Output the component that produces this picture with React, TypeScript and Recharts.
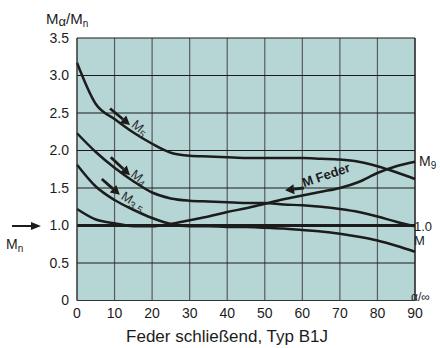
import {
  LineChart,
  Line,
  XAxis,
  YAxis,
  CartesianGrid,
  ReferenceLine,
  ReferenceDot,
  Customized,
} from "recharts";

const angles = [0, 5, 10, 15, 20, 25, 30, 35, 40, 45, 50, 55, 60, 65, 70, 75, 80, 85, 90];
const m5 = [3.17, 2.62, 2.42, 2.24, 2.09, 1.97, 1.93, 1.92, 1.91, 1.9, 1.9, 1.9, 1.9, 1.89, 1.88, 1.85, 1.79, 1.71, 1.62];
const m4 = [2.23, 1.98, 1.77, 1.59, 1.44, 1.36, 1.33, 1.32, 1.31, 1.3, 1.3, 1.28, 1.27, 1.25, 1.22, 1.18, 1.12, 1.05, 0.99];
const m35 = [1.81, 1.52, 1.34, 1.21, 1.1, 1.02, 0.99, 0.99, 0.98, 0.98, 0.97, 0.96, 0.94, 0.92, 0.89, 0.85, 0.8, 0.73, 0.65];
const mFeder = [1.22, 1.08, 1.03, 0.99, 0.99, 1.02, 1.07, 1.12, 1.18, 1.23, 1.29, 1.35, 1.4, 1.45, 1.5, 1.58, 1.7, 1.79, 1.85];

const xTicks = [0, 10, 20, 30, 40, 50, 60, 70, 80, 90];
const yTicks = [0, 0.5, 1, 1.5, 2, 2.5, 3, 3.5];

// arrows: [x1, y1, x2, y2] in data units
const arrows = [
  [8.8, 2.56, 14.1, 2.34],
  [9.0, 1.91, 14.1, 1.67],
  [6.6, 1.62, 11.4, 1.41],
  [60.4, 1.5, 55.4, 1.47],
];
const arrowLabels = [
  { x: 16.6, y: 2.29, main: "M", sub: "5", angle: 40, bold: false },
  { x: 16.4, y: 1.63, main: "M", sub: "4", angle: 38, bold: false },
  { x: 14.8, y: 1.31, main: "M", sub: "3.5", angle: 32, bold: false },
  { x: 66.4, y: 1.66, main: "M Feder", sub: "", angle: -19, bold: true },
];

const data = angles.map((a, i) => ({
  a,
  m5: m5[i],
  m4: m4[i],
  m35: m35[i],
  mf: mFeder[i],
}));

const font = "'Liberation Sans', Arial, sans-serif";
const ink = "#1c1c1c";

const ArrowShape = (props: any) => {
  const { x1, y1, x2, y2 } = props;
  const ang = Math.atan2(y2 - y1, x2 - x1);
  const len = 9;
  const w = 5;
  const bx = x2 - len * Math.cos(ang);
  const by = y2 - len * Math.sin(ang);
  const px = -Math.sin(ang) * w;
  const py = Math.cos(ang) * w;
  return (
    <g>
      <line x1={x1} y1={y1} x2={bx} y2={by} stroke={ink} strokeWidth={2.8} />
      <polygon points={`${x2},${y2} ${bx + px},${by + py} ${bx - px},${by - py}`} fill={ink} />
    </g>
  );
};

const Labels = () => (
  <g fontFamily={font}>
    <text x={46} y={24} fontSize={15} fill={ink}>
      M<tspan fontSize={13} dy={2}>α</tspan>
      <tspan dy={-2}>/M</tspan>
      <tspan fontSize={10} dy={3}>n</tspan>
    </text>
    <text x={227} y={342} fontSize={17} fill={ink} textAnchor="middle">
      Feder schließend, Typ B1J
    </text>
    <text x={419} y={166} fontSize={14} fill={ink}>
      M<tspan fontSize={10} dy={3}>9</tspan>
    </text>
    <text x={414} y={231} fontSize={13} fill={ink}>1.0</text>
    <text x={414} y={245} fontSize={13} fill={ink}>M</text>
    <text x={411} y={301} fontSize={12} fill={ink}>α/∞</text>
    <line x1={12} y1={226} x2={32} y2={226} stroke={ink} strokeWidth={2} />
    <polygon points="41,226 31,222 31,230" fill={ink} />
    <text x={6} y={249} fontSize={14} fill={ink}>
      M<tspan fontSize={10} dy={3}>n</tspan>
    </text>
  </g>
);

const App = () => {
  return (
    <div style={{ position: "absolute", left: 0, top: 0 }}>
      <LineChart width={440} height={348} data={data} margin={{ top: 38, right: 25, bottom: 0, left: 0 }}>
        <CartesianGrid fill="#b6d6d6" horizontal={false} stroke="#5a5a5a" strokeWidth={1.2} />
        <CartesianGrid horizontal vertical={false} stroke="#1a1a1a" strokeWidth={1} />
        <XAxis
          dataKey="a"
          type="number"
          domain={[0, 90]}
          ticks={xTicks}
          height={47.5}
          tickLine={false}
          axisLine={{ stroke: "#333" }}
          tick={{ fontSize: 14, fill: ink, fontFamily: font }}
          interval={0}
        />
        <YAxis
          type="number"
          domain={[0, 3.5]}
          ticks={yTicks}
          width={77}
          tickLine={false}
          axisLine={{ stroke: "#333" }}
          tick={{ fontSize: 14, fill: ink, fontFamily: font }}
          tickFormatter={(v: number) => (v === 0 ? "0" : v.toFixed(1))}
          interval={0}
        />
        <ReferenceLine x={90} stroke="#222" strokeWidth={1.2} />
        <ReferenceLine y={1} stroke={ink} strokeWidth={3} />
        <Line type="monotone" dataKey="m5" stroke={ink} strokeWidth={2.5} dot={false} isAnimationActive={false} />
        <Line type="monotone" dataKey="m4" stroke={ink} strokeWidth={2.5} dot={false} isAnimationActive={false} />
        <Line type="monotone" dataKey="m35" stroke={ink} strokeWidth={2.5} dot={false} isAnimationActive={false} />
        <Line type="monotone" dataKey="mf" stroke={ink} strokeWidth={2.5} dot={false} isAnimationActive={false} />
        {arrows.map((a, i) => (
          <ReferenceLine
            key={"ar" + i}
            segment={[
              { x: a[0], y: a[1] },
              { x: a[2], y: a[3] },
            ]}
            shape={ArrowShape}
            ifOverflow="visible"
          />
        ))}
        {arrowLabels.map((l, i) => (
          <ReferenceDot
            key={"lb" + i}
            x={l.x}
            y={l.y}
            ifOverflow="visible"
            shape={(p: any) => (
              <text
                x={p.cx}
                y={p.cy}
                transform={`rotate(${l.angle} ${p.cx} ${p.cy})`}
                textAnchor="middle"
                dominantBaseline="middle"
                fontFamily={font}
                fontSize={l.bold ? 13 : 13}
                fontWeight={l.bold ? "bold" : "normal"}
                fill={l.bold ? ink : "#2e2e2e"}
              >
                {l.main}
                {l.sub && (
                  <tspan fontSize={10} dy={3}>
                    {l.sub}
                  </tspan>
                )}
              </text>
            )}
          />
        ))}
        <Customized component={Labels} />
      </LineChart>
    </div>
  );
};

export default App;
